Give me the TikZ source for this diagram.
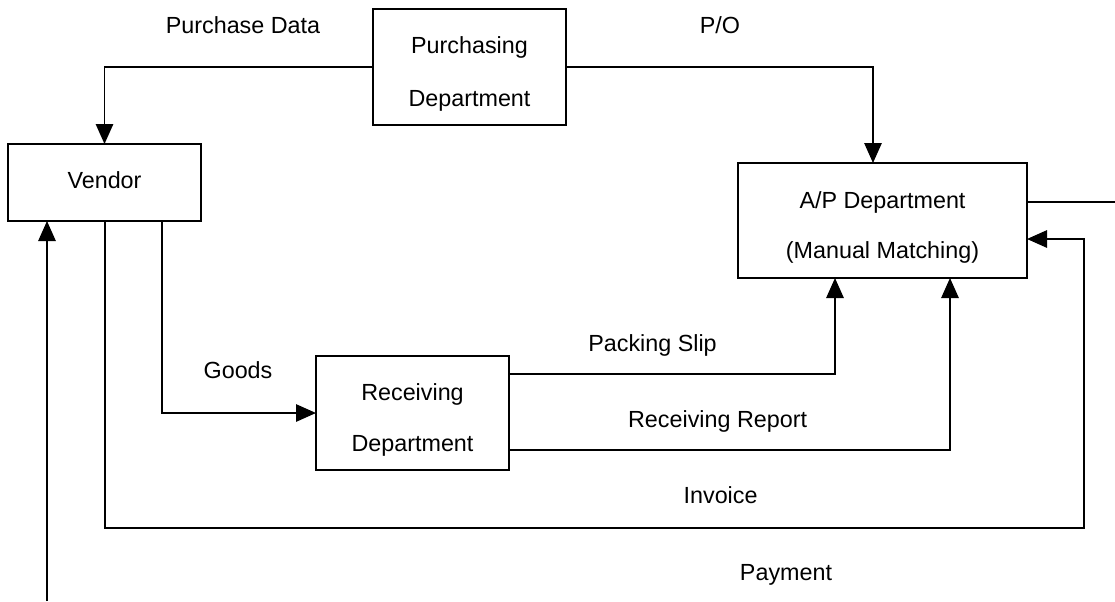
\documentclass[tikz,border=0pt]{standalone}
\usepackage{fontspec}
\setmainfont{Liberation Sans}
\usetikzlibrary{arrows.meta}
\begin{document}
\begin{tikzpicture}[x=0.75pt,y=-0.75pt,
  box/.style={draw, line width=1.5pt, inner sep=0pt, outer sep=0pt},
  flow/.style={line width=1.4pt},
  tip/.style={-{Triangle[length=15pt,width=13pt]}},
  lbl/.style={anchor=base, inner sep=0pt, font=\fontsize{17.5}{20}\selectfont}]
\useasboundingbox (0,0) rectangle (1115,601);

% departments
\node[box, minimum width=144.75pt, minimum height=57.75pt] (vendor) at (104.5,182.5) {};
\node[box, minimum width=144.75pt, minimum height=87pt]    (purch)  at (469.5,67) {};
\node[box, minimum width=216.75pt, minimum height=86.25pt] (ap)     at (882.5,220.5) {};
\node[box, minimum width=144.75pt, minimum height=85.5pt]  (rcv)    at (412.5,413) {};

% box captions
\node[lbl] (purchT1) at (469.5,53)  {Purchasing};
\node[lbl] (purchT2) at (469.5,106) {Department};
\node[lbl] (vendorT) at (104.5,188) {Vendor};
\node[lbl] (apT1)    at (882.5,208) {A/P Department};
\node[lbl] (apT2)    at (882.5,258) {(Manual Matching)};
\node[lbl] (rcvT1)   at (412.5,400) {Receiving};
\node[lbl] (rcvT2)   at (412.5,451) {Department};

% bend points and free ends
\coordinate (poTurn) at (873,67);
\coordinate (invA)   at (105,528);
\coordinate (invB)   at (1084,528);
\coordinate (invIn)  at (1084,239);
\coordinate (gd)     at (162,413);
\coordinate (ps)     at (835,374);
\coordinate (rr)     at (950,450);
\coordinate (pay)    at (47,601);
\coordinate (apout)  at (1115,202);

% flows
\draw[flow,tip] (purch.west) -- (vendor.north |- purch.west) -- (vendor.north);
\draw[flow,tip] (purch.east) -- (poTurn) -- (poTurn |- ap.north);
\draw[flow] (apout -| ap.east) -- (apout);
\draw[flow,tip] (invA |- vendor.south) -- (invA) -- (invB) -- (invIn) -- (invIn -| ap.east);
\draw[flow,tip] (gd |- vendor.south) -- (gd) -- (rcv.west);
\draw[flow,tip] (rcv.east |- ps) -- (ps) -- (ps |- ap.south);
\draw[flow,tip] (rcv.east |- rr) -- (rr) -- (rr |- ap.south);
\draw[flow,tip] (pay) -- (pay |- vendor.south);

% flow labels
\node[lbl] (lPurchData) at (243,33)    {Purchase Data};
\node[lbl] (lPO)        at (720,33)    {P/O};
\node[lbl] (lGoods)     at (238,378)   {Goods};
\node[lbl] (lPacking)   at (652.5,351) {Packing Slip};
\node[lbl] (lReport)    at (717.6,427) {Receiving Report};
\node[lbl] (lInvoice)   at (720.6,503) {Invoice};
\node[lbl] (lPayment)   at (786,580)   {Payment};
\end{tikzpicture}
\end{document}
